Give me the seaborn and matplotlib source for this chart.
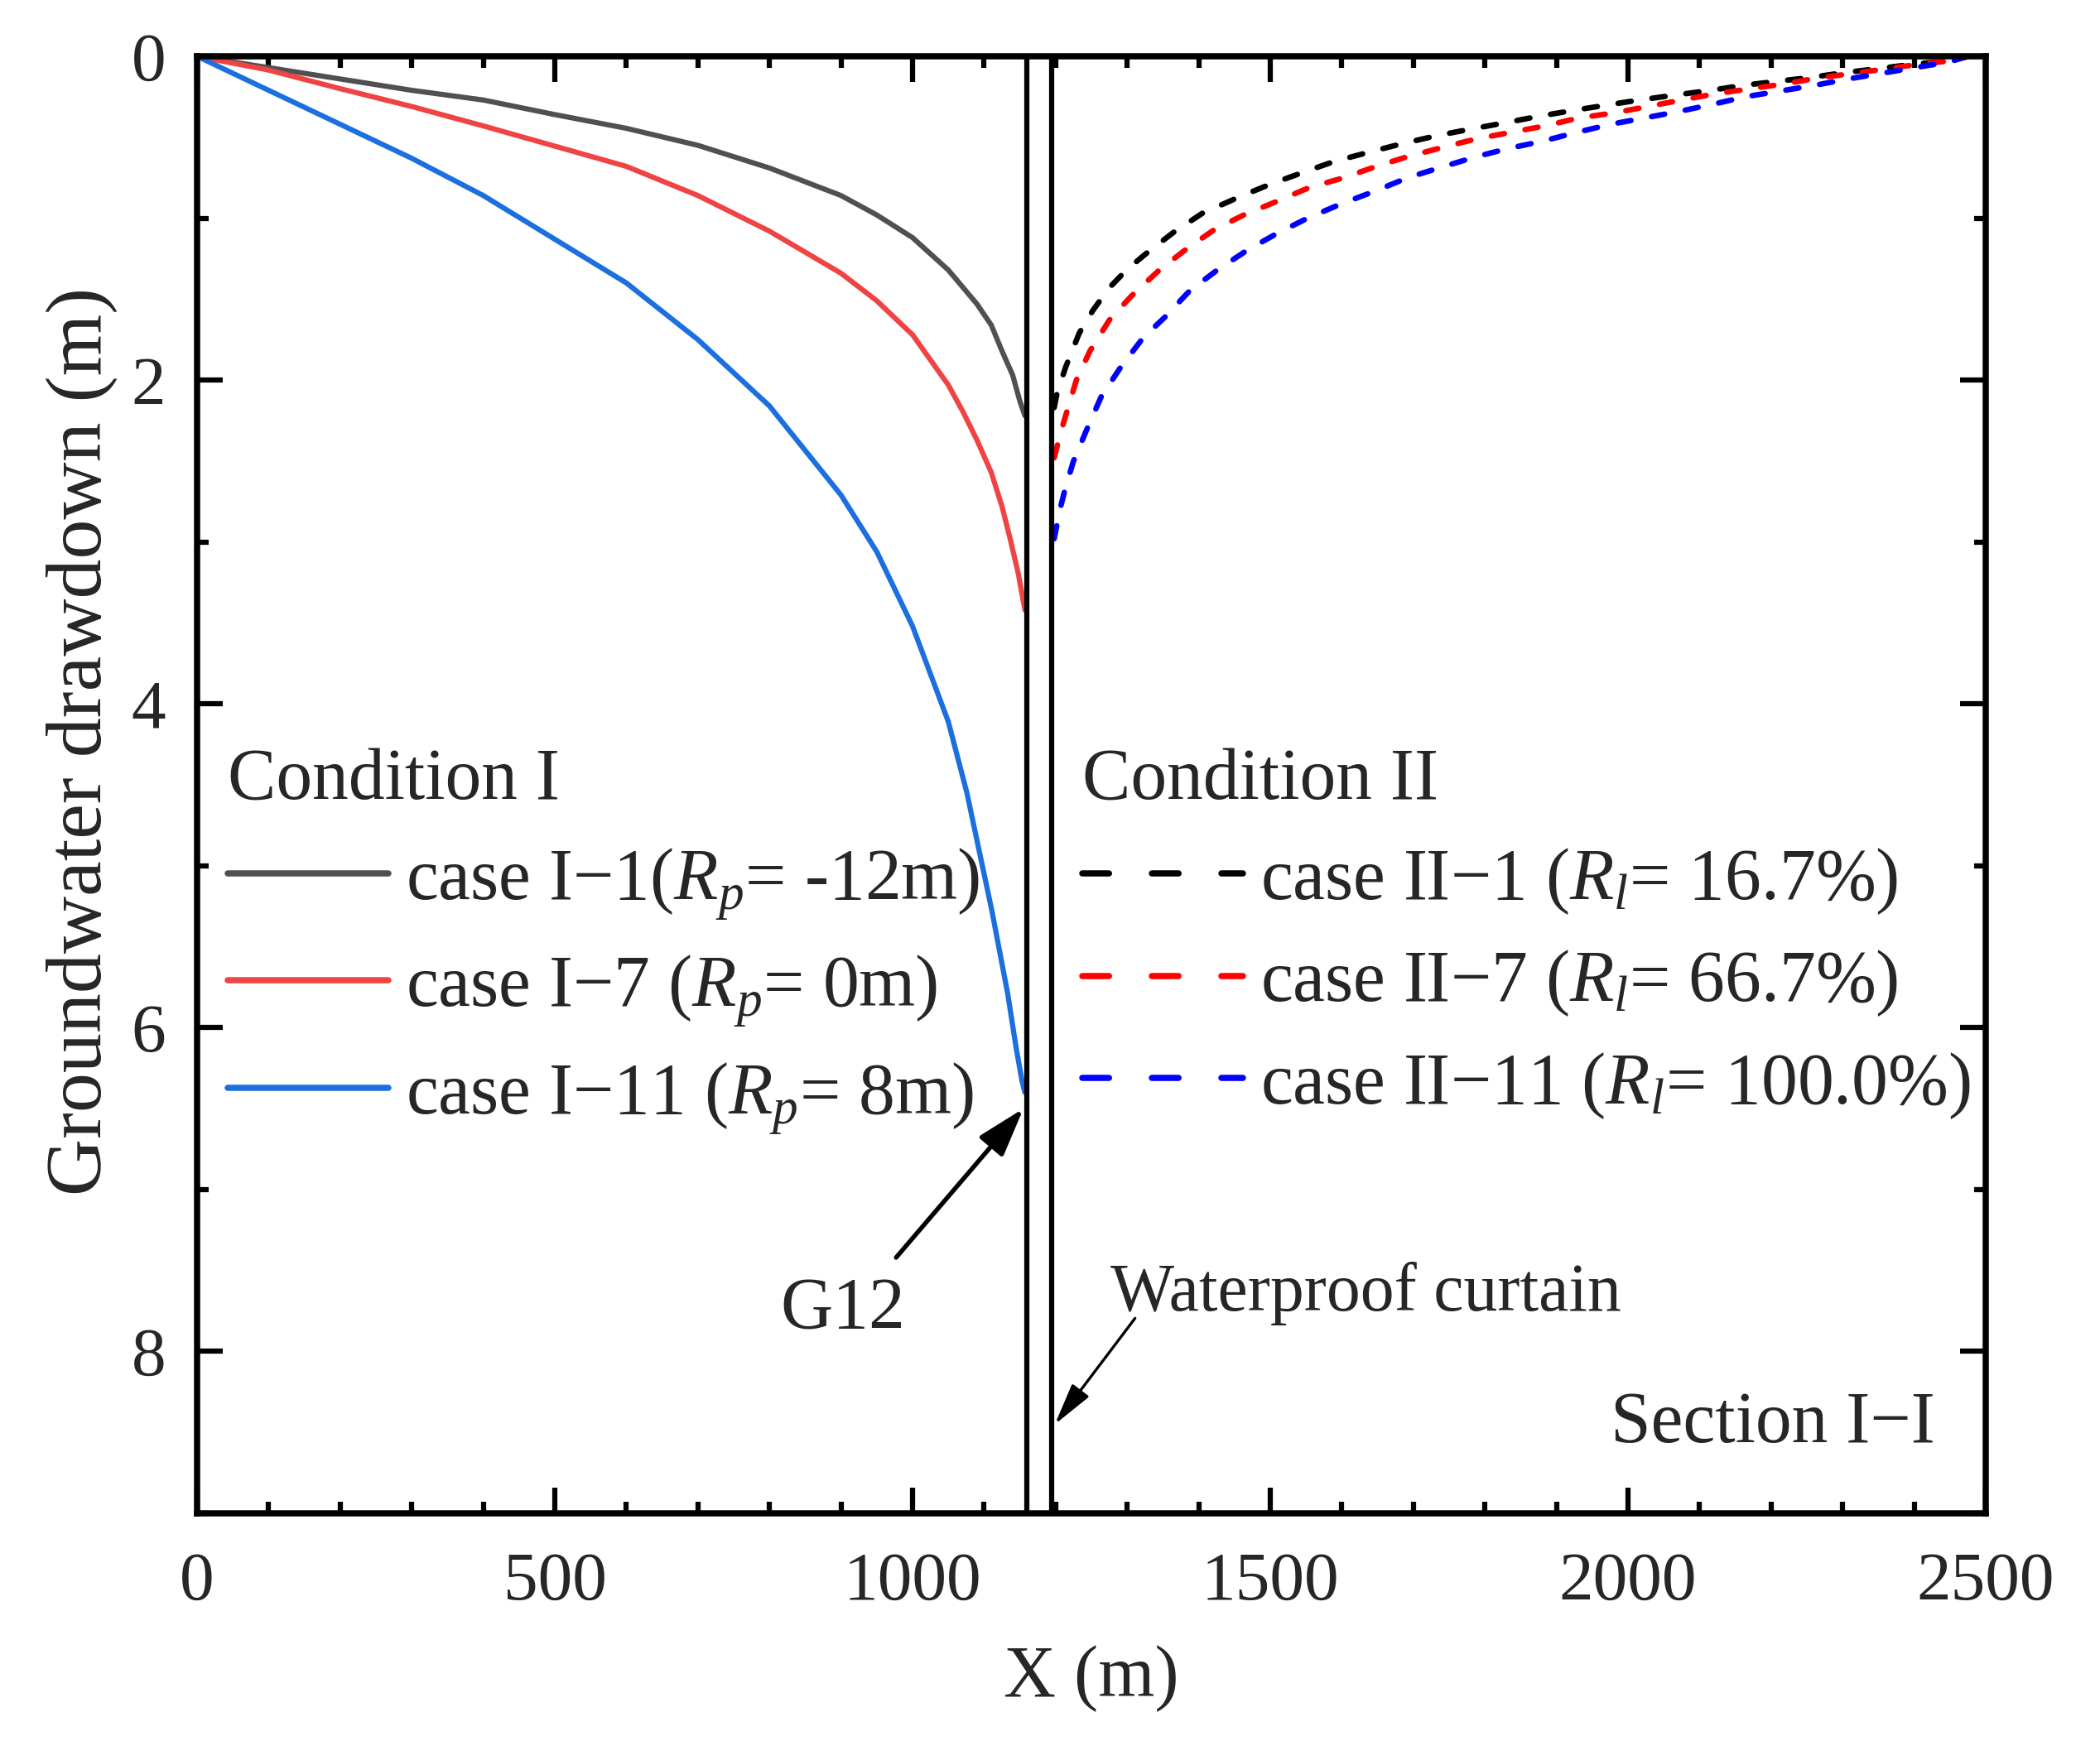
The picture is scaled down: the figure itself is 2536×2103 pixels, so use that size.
import matplotlib
matplotlib.use('Agg')
import matplotlib.pyplot as plt
import seaborn as sns
from matplotlib.lines import Line2D
from matplotlib.ticker import MultipleLocator

# ── Data ────────────────────────────────────────────────────────────
# Condition I : outside the curtain, x < 1160 m
x_I1 = [0, 100, 200, 300, 400, 500, 600, 700, 800, 900, 950, 1000, 1050, 1090, 1110, 1125, 1140, 1150, 1157]
y_I1 = [0, 0.07, 0.14, 0.21, 0.27, 0.36, 0.445, 0.55, 0.69, 0.86, 0.98, 1.12, 1.32, 1.53, 1.66, 1.82, 1.97, 2.13, 2.22]

x_I7 = [0, 100, 200, 300, 400, 500, 600, 700, 800, 900, 950, 1000, 1050, 1071, 1090, 1110, 1125, 1137, 1148, 1157]
y_I7 = [0, 0.085, 0.20, 0.31, 0.43, 0.555, 0.68, 0.86, 1.08, 1.34, 1.51, 1.72, 2.03, 2.20, 2.37, 2.57, 2.78, 2.99, 3.20, 3.42]

x_I11 = [0, 100, 200, 300, 400, 500, 600, 700, 800, 900, 950, 1000, 1050, 1076, 1111, 1133, 1145, 1153, 1157]
y_I11 = [0, 0.21, 0.42, 0.63, 0.86, 1.13, 1.40, 1.75, 2.16, 2.71, 3.06, 3.52, 4.11, 4.55, 5.28, 5.79, 6.13, 6.33, 6.40]

# Condition II : inside the curtain, x > 1195 m
x_II1 = [1198, 1202, 1214, 1233, 1252, 1275, 1299, 1326, 1364, 1405, 1456, 1500, 1544, 1589, 1640, 1684,
         1733, 1780, 1829, 1876, 1924, 1972, 2016, 2065, 2116, 2160, 2208, 2256, 2304, 2352, 2400, 2452, 2475]
y_II1 = [2.17, 2.08, 1.92, 1.71, 1.57, 1.43, 1.32, 1.22, 1.09, 0.97, 0.87, 0.79, 0.72, 0.65, 0.59, 0.54,
         0.49, 0.45, 0.41, 0.37, 0.334, 0.30, 0.27, 0.24, 0.21, 0.18, 0.155, 0.13, 0.10, 0.075, 0.048, 0.027, 0.0]

x_II7 = [1198, 1206, 1214, 1229, 1248, 1275, 1306, 1345, 1383, 1422, 1463, 1507, 1555, 1603, 1648, 1692,
         1743, 1788, 1836, 1884, 1932, 1980, 2028, 2075, 2124, 2172, 2219, 2264, 2312, 2360, 2408, 2460, 2475]
y_II7 = [2.48, 2.34, 2.22, 2.00, 1.82, 1.63, 1.48, 1.32, 1.19, 1.07, 0.98, 0.90, 0.81, 0.75, 0.68, 0.62,
         0.56, 0.51, 0.47, 0.43, 0.38, 0.35, 0.31, 0.27, 0.23, 0.20, 0.17, 0.135, 0.107, 0.078, 0.048, 0.024, 0.0]

x_II11 = [1198, 1206, 1214, 1225, 1245, 1264, 1291, 1322, 1353, 1387, 1426, 1467, 1507, 1552, 1600, 1648, 1692,
          1743, 1788, 1832, 1880, 1928, 1976, 2024, 2072, 2120, 2164, 2212, 2260, 2308, 2356, 2408, 2448, 2475]
y_II11 = [2.98, 2.80, 2.66, 2.50, 2.29, 2.10, 1.92, 1.74, 1.61, 1.45, 1.32, 1.20, 1.10, 1.00, 0.91, 0.83, 0.75,
          0.68, 0.62, 0.57, 0.525, 0.47, 0.42, 0.38, 0.34, 0.295, 0.25, 0.215, 0.18, 0.14, 0.104, 0.065, 0.036, 0.0]

curtain_x = [1160, 1195]

labels_I = ['case I\u22121($R_p$= -12m)', 'case I\u22127 ($R_p$= 0m)', 'case I\u221211 ($R_p$= 8m)']
labels_II = ['case II\u22121 ($R_l$= 16.7%)', 'case II\u22127 ($R_l$= 66.7%)', 'case II\u221211 ($R_l$= 100.0%)']
colors_I = ['#505050', '#F04343', '#1B6FDE']
colors_II = ['#000000', '#FF0000', '#0000FF']

# ── Style ───────────────────────────────────────────────────────────
sns.set_theme(style="ticks")
plt.rcParams['font.family'] = ['Liberation Serif', 'DejaVu Serif']
plt.rcParams['mathtext.fontset'] = 'custom'
plt.rcParams['mathtext.rm'] = 'Liberation Serif'
plt.rcParams['mathtext.it'] = 'Liberation Serif:italic'
plt.rcParams['axes.linewidth'] = 1.8
plt.rcParams['axes.edgecolor'] = 'black'

FS = 21

fig, ax = plt.subplots(figsize=(2536 / 300, 2103 / 300), dpi=300)
fig.subplots_adjust(left=238 / 2536, right=2398 / 2536, top=1 - 68 / 2103, bottom=1 - 1828 / 2103)

dash_plot = (0, (2.4, 3.8))
for xs, ys, c in zip([x_I1, x_I7, x_I11], [y_I1, y_I7, y_I11], colors_I):
    sns.lineplot(x=xs, y=ys, color=c, linewidth=1.5, ax=ax, estimator=None)
for xs, ys, c in zip([x_II1, x_II7, x_II11], [y_II1, y_II7, y_II11], colors_II):
    sns.lineplot(x=xs, y=ys, color=c, linewidth=1.6, linestyle=dash_plot,
                 dash_capstyle='round', ax=ax, estimator=None)

# waterproof curtain
for cx in curtain_x:
    ax.axvline(cx, color='black', linewidth=1.5, zorder=3)

ax.set_xlim(0, 2500)
ax.set_ylim(9, 0)
ax.xaxis.set_major_locator(MultipleLocator(500))
ax.xaxis.set_minor_locator(MultipleLocator(100))
ax.yaxis.set_major_locator(MultipleLocator(2))
ax.yaxis.set_minor_locator(MultipleLocator(1))
ax.tick_params(which='both', direction='in', top=True, right=True, width=1.5, color='black')
ax.tick_params(which='major', length=7.5)
ax.tick_params(which='minor', length=3.4)
ax.tick_params(axis='x', which='major', pad=11, labelsize=20)
ax.tick_params(axis='y', which='major', pad=9, labelsize=20)

ax.set_xlabel('X (m)', fontsize=FS, labelpad=9)
ax.set_ylabel('Groundwater drawdown (m)', fontsize=23, labelpad=4)
ax.yaxis.label.set_y(0.53)

# legends
h_I = [Line2D([], [], color=c, lw=1.8, solid_capstyle='round') for c in colors_I]
h_II = [Line2D([], [], color=c, lw=1.8, linestyle=(0, (4.3, 6.9)), dash_capstyle='round') for c in colors_II]
common = dict(loc='upper left', frameon=False, borderpad=0, borderaxespad=0,
              handlelength=2.22, handletextpad=0.24, labelspacing=0.44,
              fontsize=FS, title_fontsize=FS, alignment='left')
leg1 = ax.legend(h_I, labels_I, title='Condition I', bbox_to_anchor=(0.0171, 0.526), **common)
ax.add_artist(leg1)
ax.legend(h_II, labels_II, title='Condition II', bbox_to_anchor=(0.495, 0.526), **common)

# annotations
ax.text(902, 7.85, 'G12', fontsize=FS, ha='center', va='baseline')
ax.annotate('', xy=(1155, 6.5), xytext=(977, 7.42),
            arrowprops=dict(arrowstyle='-|>,head_length=0.6,head_width=0.19',
                            mutation_scale=20, color='black', lw=1.3, shrinkA=0, shrinkB=0))
ax.text(1277, 7.745, 'Waterproof curtain', fontsize=19.6, ha='left', va='baseline')
ax.annotate('', xy=(1199, 8.45), xytext=(1311, 7.795),
            arrowprops=dict(arrowstyle='-|>,head_length=0.52,head_width=0.13',
                            mutation_scale=20, color='black', lw=0.8, shrinkA=0, shrinkB=0))
ax.text(2429, 8.56, 'Section I\u2212I', fontsize=FS, ha='right', va='baseline')

plt.savefig('out.png', dpi=300)
